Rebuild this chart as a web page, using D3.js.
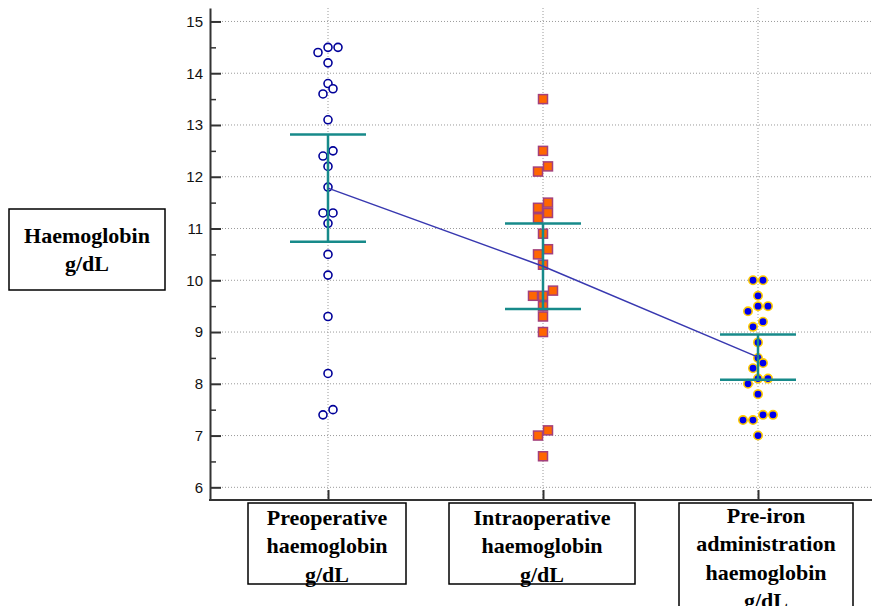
<!DOCTYPE html>
<html>
<head>
<meta charset="utf-8">
<script src="https://cdn.jsdelivr.net/npm/d3@7"></script>
<style>
  body { margin: 0; background: #fff; }
  .tick text { font-family: "Liberation Sans", Arial, sans-serif; font-size: 15px; fill: #111; }
  .box-label { font-family: "Liberation Serif", "Times New Roman", serif; font-weight: bold; font-size: 22px; fill: #000; }
</style>
</head>
<body>
<div id="chart"></div>
<script>
// categories (label lines for each box)
const categories = ["pre", "intra", "preIron"];
const categoryLines = [
  ["Preoperative", "haemoglobin", "g/dL"],
  ["Intraoperative", "haemoglobin", "g/dL"],
  ["Pre-iron", "administration", "haemoglobin", "g/dL"]
];
const yLabelLines = ["Haemoglobin", "g/dL"];

// haemoglobin values (g/dL)
const preoperative = [14.5, 14.5, 14.4, 14.2, 13.8, 13.7, 13.6, 13.1, 12.5, 12.4, 12.2,
  11.8, 11.3, 11.3, 11.1, 10.5, 10.1, 9.3, 8.2, 7.5, 7.4];
const intraoperative = [13.5, 12.5, 12.2, 12.1, 11.5, 11.4, 11.3, 11.2, 10.9, 10.6, 10.5,
  10.3, 9.8, 9.7, 9.7, 9.5, 9.3, 9.0, 7.1, 7.0, 6.6];
const preIron = [10.0, 10.0, 9.7, 9.5, 9.5, 9.4, 9.2, 9.1, 8.8, 8.5, 8.4,
  8.3, 8.1, 8.1, 8.0, 7.8, 7.4, 7.4, 7.3, 7.3, 7.0];

const yTickValues = [6, 7, 8, 9, 10, 11, 12, 13, 14, 15];
const yMinorValues = [6.5, 7.5, 8.5, 9.5, 10.5, 11.5, 12.5, 13.5, 14.5];

const tCrit = 2.086; // t(0.975, df = 20) for the 95% CI of the mean

const series = [preoperative, intraoperative, preIron];

const W = 872, H = 606;
const axisX = 210, axisBottom = 500, axisTop = 8;

const svg = d3.select("#chart").append("svg")
  .attr("width", W)
  .attr("height", H);

const y = d3.scaleLinear().domain([5.755, 15.26]).range([axisBottom, axisTop]);
const x = d3.scalePoint().domain(categories).range([328, 758]);

// grid
const grid = svg.append("g").attr("stroke", "#9a9a9a").attr("stroke-width", 1).attr("stroke-dasharray", "1,2");
grid.selectAll(".hgrid")
  .data(yTickValues)
  .join("line")
  .attr("x1", axisX + 12).attr("x2", W)
  .attr("y1", d => y(d)).attr("y2", d => y(d));
grid.selectAll(".vgrid")
  .data(categories)
  .join("line")
  .attr("x1", d => x(d)).attr("x2", d => x(d))
  .attr("y1", axisTop).attr("y2", axisBottom);

// spread equal-ish values sideways like the original dot plot
function dodge(values, threshold, step) {
  const order = d3.range(values.length).sort((a, b) => values[a] - values[b] || a - b);
  const offsets = new Array(values.length).fill(0);
  let group = [];
  const flush = () => group.forEach((idx, k) => offsets[idx] = (k - (group.length - 1) / 2) * step);
  order.forEach(i => {
    if (group.length && values[i] - values[group[0]] < threshold) group.push(i);
    else { flush(); group = [i]; }
  });
  flush();
  return offsets;
}

const points = svg.append("g");

// preoperative: open circles
const off0 = dodge(preoperative, 0.15, 10);
points.append("g").selectAll("circle")
  .data(preoperative)
  .join("circle")
  .attr("cx", (d, i) => x(categories[0]) + off0[i])
  .attr("cy", d => y(d))
  .attr("r", 4)
  .attr("fill", "#fff")
  .attr("stroke", "#000099")
  .attr("stroke-width", 1.6);

// intraoperative: orange squares
const off1 = dodge(intraoperative, 0.15, 10);
points.append("g").selectAll("rect")
  .data(intraoperative)
  .join("rect")
  .attr("x", (d, i) => x(categories[1]) + off1[i] - 4.5)
  .attr("y", d => y(d) - 4.5)
  .attr("width", 9)
  .attr("height", 9)
  .attr("fill", "#ff6600")
  .attr("stroke", "#a3407c")
  .attr("stroke-width", 1.5);

// pre-iron: blue dots with yellow rim
const off2 = dodge(preIron, 0.15, 10);
points.append("g").selectAll("circle")
  .data(preIron)
  .join("circle")
  .attr("cx", (d, i) => x(categories[2]) + off2[i])
  .attr("cy", d => y(d))
  .attr("r", 4.2)
  .attr("fill", "#0000ee")
  .attr("stroke", "#ffcc00")
  .attr("stroke-width", 1.6);

// mean and 95% CI
const stats = series.map((vals, i) => {
  const m = d3.mean(vals);
  const half = tCrit * d3.deviation(vals) / Math.sqrt(vals.length);
  return { cat: categories[i], mean: m, lo: m - half, hi: m + half };
});

const err = svg.append("g").attr("stroke", "#178a8a").attr("stroke-width", 2.5);
err.selectAll(".stem")
  .data(stats)
  .join("line")
  .attr("x1", d => x(d.cat)).attr("x2", d => x(d.cat))
  .attr("y1", d => y(d.lo)).attr("y2", d => y(d.hi));
err.selectAll(".capHi")
  .data(stats)
  .join("line")
  .attr("x1", d => x(d.cat) - 38).attr("x2", d => x(d.cat) + 38)
  .attr("y1", d => y(d.hi)).attr("y2", d => y(d.hi));
err.selectAll(".capLo")
  .data(stats)
  .join("line")
  .attr("x1", d => x(d.cat) - 38).attr("x2", d => x(d.cat) + 38)
  .attr("y1", d => y(d.lo)).attr("y2", d => y(d.lo));

svg.append("path")
  .datum(stats)
  .attr("fill", "none")
  .attr("stroke", "#3838b0")
  .attr("stroke-width", 1.5)
  .attr("d", d3.line().x(d => x(d.cat)).y(d => y(d.mean)));

// y axis
const yAxis = svg.append("g")
  .attr("transform", `translate(${axisX},0)`)
  .call(d3.axisLeft(y).tickValues(yTickValues).tickSizeInner(-11).tickSizeOuter(0).tickPadding(7));
yAxis.select(".domain").attr("stroke", "#333").attr("stroke-width", 2);
yAxis.selectAll(".tick line").attr("stroke", "#333").attr("stroke-width", 2);

const yMinor = svg.append("g")
  .attr("transform", `translate(${axisX},0)`)
  .call(d3.axisLeft(y).tickValues(yMinorValues).tickSizeInner(-6).tickSizeOuter(0).tickFormat(""));
yMinor.select(".domain").remove();
yMinor.selectAll(".tick line").attr("stroke", "#333").attr("stroke-width", 1.5);

// x axis
const xAxis = svg.append("g")
  .attr("transform", `translate(0,${axisBottom})`)
  .call(d3.axisBottom(x).tickSizeInner(-10).tickSizeOuter(0).tickFormat(""));
xAxis.select(".domain").remove();
xAxis.selectAll(".tick line").attr("stroke", "#333").attr("stroke-width", 2);
svg.append("line")
  .attr("x1", axisX - 1).attr("x2", W)
  .attr("y1", axisBottom).attr("y2", axisBottom)
  .attr("stroke", "#333").attr("stroke-width", 2);

// category label boxes
const boxLayout = [
  { dx: -1, w: 158, top: 503, h: 81, firstBase: 525 },
  { dx: -1, w: 186, top: 503, h: 81, firstBase: 525 },
  { dx: 8, w: 174, top: 503, h: 120, firstBase: 523 }
];
const lineStep = 28.3;

categories.forEach((c, i) => {
  const b = boxLayout[i];
  const cx = x(c) + b.dx;
  const g = svg.append("g");
  g.append("rect")
    .attr("x", cx - b.w / 2).attr("y", b.top)
    .attr("width", b.w).attr("height", b.h)
    .attr("fill", "#fff").attr("stroke", "#000").attr("stroke-width", 1.5);
  g.append("text")
    .attr("class", "box-label")
    .attr("text-anchor", "middle")
    .selectAll("tspan")
    .data(categoryLines[i])
    .join("tspan")
    .attr("x", cx)
    .attr("y", (d, k) => b.firstBase + k * lineStep)
    .text(d => d);
});

// y label box
const yl = svg.append("g");
yl.append("rect")
  .attr("x", 9).attr("y", 209).attr("width", 156).attr("height", 81)
  .attr("fill", "#fff").attr("stroke", "#000").attr("stroke-width", 1.5);
yl.append("text")
  .attr("class", "box-label")
  .attr("text-anchor", "middle")
  .selectAll("tspan")
  .data(yLabelLines)
  .join("tspan")
  .attr("x", 87)
  .attr("y", (d, k) => 243 + k * 28)
  .text(d => d);
</script>
</body>
</html>
